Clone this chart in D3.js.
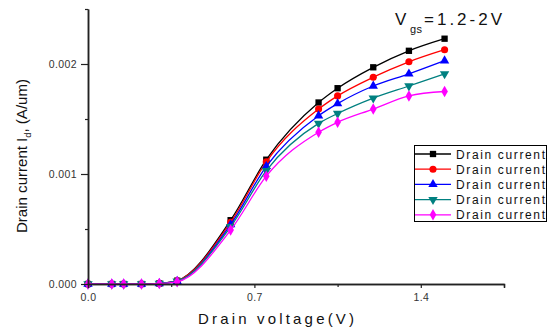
<!DOCTYPE html>
<html>
<head>
<meta charset="utf-8">
<script src="https://cdn.jsdelivr.net/npm/d3@7"></script>
<style>
  body { margin: 0; background: #fff; }
  svg { font-family: Arial, "Liberation Sans", sans-serif; }
</style>
</head>
<body>
<div class="plot"></div>
<script>
var W = 549, H = 331;

// drain voltage (V)
var vds = [0, 0.1, 0.15, 0.225, 0.3, 0.375, 0.6, 0.75, 0.97, 1.05, 1.2, 1.35, 1.5];
// drain current (A/um), one array per Vgs curve
var idBlack   = [0, 0, 0, 0, 0.000005, 0.00003, 0.00058, 0.00113, 0.00165, 0.00178, 0.00197, 0.00212, 0.00223];
var idRed     = [0, 0, 0, 0, 0.000005, 0.00003, 0.00056, 0.00111, 0.00159, 0.00171, 0.00188, 0.00202, 0.00213];
var idBlue    = [0, 0, 0, 0, 0.000005, 0.000025, 0.00054, 0.00107, 0.00153, 0.00164, 0.00180, 0.00191, 0.00203];
var idTeal    = [0, 0, 0, 0, 0.000005, 0.000025, 0.00052, 0.00103, 0.00146, 0.00155, 0.00169, 0.00180, 0.00191];
var idMagenta = [0, 0, 0, 0, 0.000005, 0.00002, 0.00049, 0.00098, 0.00138, 0.00147, 0.00159, 0.00171, 0.00175];

var xTicks = [0, 0.7, 1.4], xMinor = [0.35, 1.05, 1.75];
var yTicks = [0, 0.001, 0.002], yMinor = [0.0005, 0.0015, 0.0025];
var legendLabel = 'Drain current';

var series = [
  {vals: idBlack,   color: '#000000', sym: d3.symbolSquare,   size: 40, rot: 0},
  {vals: idRed,     color: '#ff0000', sym: d3.symbolCircle,   size: 40, rot: 0},
  {vals: idBlue,    color: '#0000ff', sym: d3.symbolTriangle, size: 38, rot: 0},
  {vals: idTeal,    color: '#008080', sym: d3.symbolTriangle, size: 38, rot: 180},
  {vals: idMagenta, color: '#ff00ff', sym: d3.symbolDiamond,  size: 38, rot: 0}
];

var x = d3.scaleLinear().domain([0, 1.75]).range([88, 504]);
var y = d3.scaleLinear().domain([0, 0.0025]).range([284, 9]);

var svg = d3.select('.plot').append('svg')
    .attr('width', W)
    .attr('height', H);

// curves + markers
var line = d3.line()
    .x(function(d, i){ return x(vds[i]); })
    .y(function(d){ return y(d); })
    .curve(d3.curveMonotoneX);

series.forEach(function(s){
  svg.append('path')
      .datum(s.vals)
      .attr('d', line)
      .attr('fill', 'none')
      .attr('stroke', s.color)
      .attr('stroke-width', 1.3);
  svg.selectAll(null)
      .data(s.vals)
      .enter()
      .append('path')
      .attr('d', d3.symbol().type(s.sym).size(s.size))
      .attr('transform', function(d, i){
        return 'translate(' + x(vds[i]) + ',' + y(d) + ') rotate(' + s.rot + ')';
      })
      .attr('fill', s.color);
});

// axes
function styleAxis(g){
  g.select('.domain').attr('stroke', '#222').attr('stroke-width', 1.5);
  g.selectAll('.tick line').attr('stroke', '#222').attr('stroke-width', 1.2);
  g.selectAll('.tick text').attr('fill', '#333').style('font-size', '10.5px')
      .attr('letter-spacing', '0.4px');
}

svg.append('g')
    .attr('transform', 'translate(0,284)')
    .call(d3.axisBottom(x).tickValues(xTicks).tickFormat(d3.format('.1f')).tickSize(4).tickPadding(6))
    .call(styleAxis);
svg.append('g')
    .attr('transform', 'translate(0,284)')
    .call(d3.axisBottom(x).tickValues(xMinor).tickFormat('').tickSize(3).tickSizeOuter(0))
    .call(styleAxis);

svg.append('g')
    .attr('transform', 'translate(88,0)')
    .call(d3.axisLeft(y).tickValues(yTicks).tickFormat(d3.format('.3f')).tickSize(7).tickPadding(4).tickSizeOuter(0))
    .call(styleAxis);
svg.append('g')
    .attr('transform', 'translate(88,0)')
    .call(d3.axisLeft(y).tickValues(yMinor).tickFormat('').tickSize(3).tickSizeOuter(0))
    .call(styleAxis);

// axis titles
svg.append('text')
    .attr('x', 198).attr('y', 324)
    .attr('textLength', 156).attr('lengthAdjust', 'spacing')
    .style('font-size', '15px').attr('fill', '#111')
    .text('Drain voltage(V)');

var yt = svg.append('text')
    .attr('transform', 'translate(27,233) rotate(-90)')
    .attr('textLength', 154).attr('lengthAdjust', 'spacingAndGlyphs')
    .style('font-size', '14.5px').attr('fill', '#111');
yt.append('tspan').text('Drain current I');
yt.append('tspan').attr('dy', 4).style('font-size', '9px').text('d');
yt.append('tspan').attr('dy', -4).text(', (A/um)');

// Vgs annotation
svg.append('text')
    .attr('x', 395).attr('y', 25)
    .style('font-size', '17px').attr('fill', '#111')
    .text('V');
svg.append('text')
    .attr('x', 410).attr('y', 33)
    .attr('textLength', 12).attr('lengthAdjust', 'spacing')
    .style('font-size', '11px').attr('fill', '#111')
    .text('gs');
svg.append('text')
    .attr('x', 424).attr('y', 25)
    .attr('textLength', 78).attr('lengthAdjust', 'spacing')
    .style('font-size', '17px').attr('fill', '#111')
    .text('=1.2-2V');

// legend
var lg = svg.append('g');
lg.append('rect')
    .attr('x', 414.5).attr('y', 145.5)
    .attr('width', 132).attr('height', 76)
    .attr('fill', '#fff').attr('stroke', '#000').attr('stroke-width', 1);

var rows = lg.selectAll('g.row')
    .data(series)
    .enter()
    .append('g')
    .attr('class', 'row')
    .attr('transform', function(d, i){ return 'translate(0,' + (154 + i * 15.2) + ')'; });

rows.append('line')
    .attr('x1', 415).attr('x2', 451)
    .attr('stroke', function(d){ return d.color; })
    .attr('stroke-width', 1.3);
rows.append('path')
    .attr('d', function(d){ return d3.symbol().type(d.sym).size(d.size)(); })
    .attr('transform', function(d){ return 'translate(433,0) rotate(' + d.rot + ')'; })
    .attr('fill', function(d){ return d.color; });
rows.append('text')
    .attr('x', 456).attr('y', 4.5)
    .attr('textLength', 89).attr('lengthAdjust', 'spacing')
    .style('font-size', '12px').attr('fill', '#111')
    .text(legendLabel);
</script>
</body>
</html>
